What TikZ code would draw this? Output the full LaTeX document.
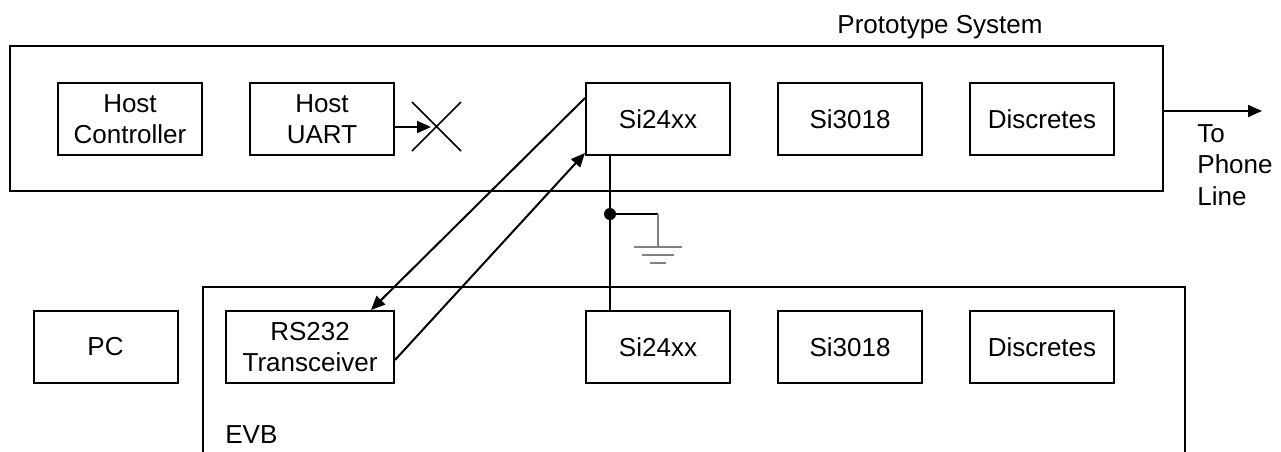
\documentclass[tikz,border=0pt]{standalone}
\usepackage{fontspec}
\setmainfont{Liberation Sans}
\usetikzlibrary{arrows.meta,calc}
\begin{document}
\begin{tikzpicture}[x=0.5pt,y=-0.5pt,
  every node/.style={font=\fontsize{13pt}{15.8pt}\selectfont},
  blk/.style={draw,line width=1pt,minimum width=72pt,minimum height=36pt,inner sep=0pt,align=center},
  wire/.style={line width=1pt},
  arr/.style={line width=1pt,-{Triangle[length=7pt,width=6pt]}},
  gnd/.style={line width=0.8pt,draw=black!50}]
\useasboundingbox (0,0) rectangle (1281,451);
% outer boxes
\node[draw,line width=1pt,minimum width=576.5pt,minimum height=72.5pt,inner sep=0pt] (proto) at (586.5,118.5) {};
\node (ptitle) at (940,27) {Prototype System};
\draw[wire] (203,455) -- (203,287) -- (1185,287) -- (1185,455);
\node[anchor=west,inner sep=0pt] (evb) at (225,435) {EVB};
% top blocks
\node[blk] (hc) at (130,119) {Host\\Controller};
\node[blk] (uart) at (322,119) {Host\\UART};
\node[blk] (si) at (658,119) {Si24xx};
\node[blk] (sia) at (850,119) {Si3018};
\node[blk] (disc) at (1042,119) {Discretes};
% bottom blocks
\node[blk] (pc) at (105.5,347) {PC};
\node[blk,minimum width=84pt] (rs) at (310,347) {RS232\\Transceiver};
\node[blk] (si2) at (658,347) {Si24xx};
\node[blk] (sib) at (850,347) {Si3018};
\node[blk] (disc2) at (1042,347) {Discretes};
% UART to cross
\coordinate (xc) at (431,127);
\draw[arr] ([yshift=-4pt]uart.east) -- (xc);
\draw[line width=0.8pt] (412,102) -- (461,151) (412,151) -- (461,102);
% serial links
\draw[arr] ([yshift=-8pt]si.north west) -- ([xshift=-12pt]rs.north east);
\draw[arr] ([yshift=12pt]rs.south east) -- ([yshift=1.5pt]si.south west);
% phone line
\coordinate (ph) at (1262,111);
\draw[arr] (proto.east |- ph) -- (ph);
\node[anchor=north west,inner sep=0pt,align=left] (phone) at (1197,124) {To\\Phone\\Line};
% ground connection
\coordinate (dot) at (610,214);
\draw[wire] (si.south -| dot) -- (si2.north -| dot);
\fill (dot) circle (3pt);
\draw[wire] (dot) -- (658,214);
\draw[gnd] (658,214) -- (658,247);
\draw[gnd] (634,247) -- (682,247) (642,255) -- (674,255) (650,263) -- (666,263);
\end{tikzpicture}
\end{document}
